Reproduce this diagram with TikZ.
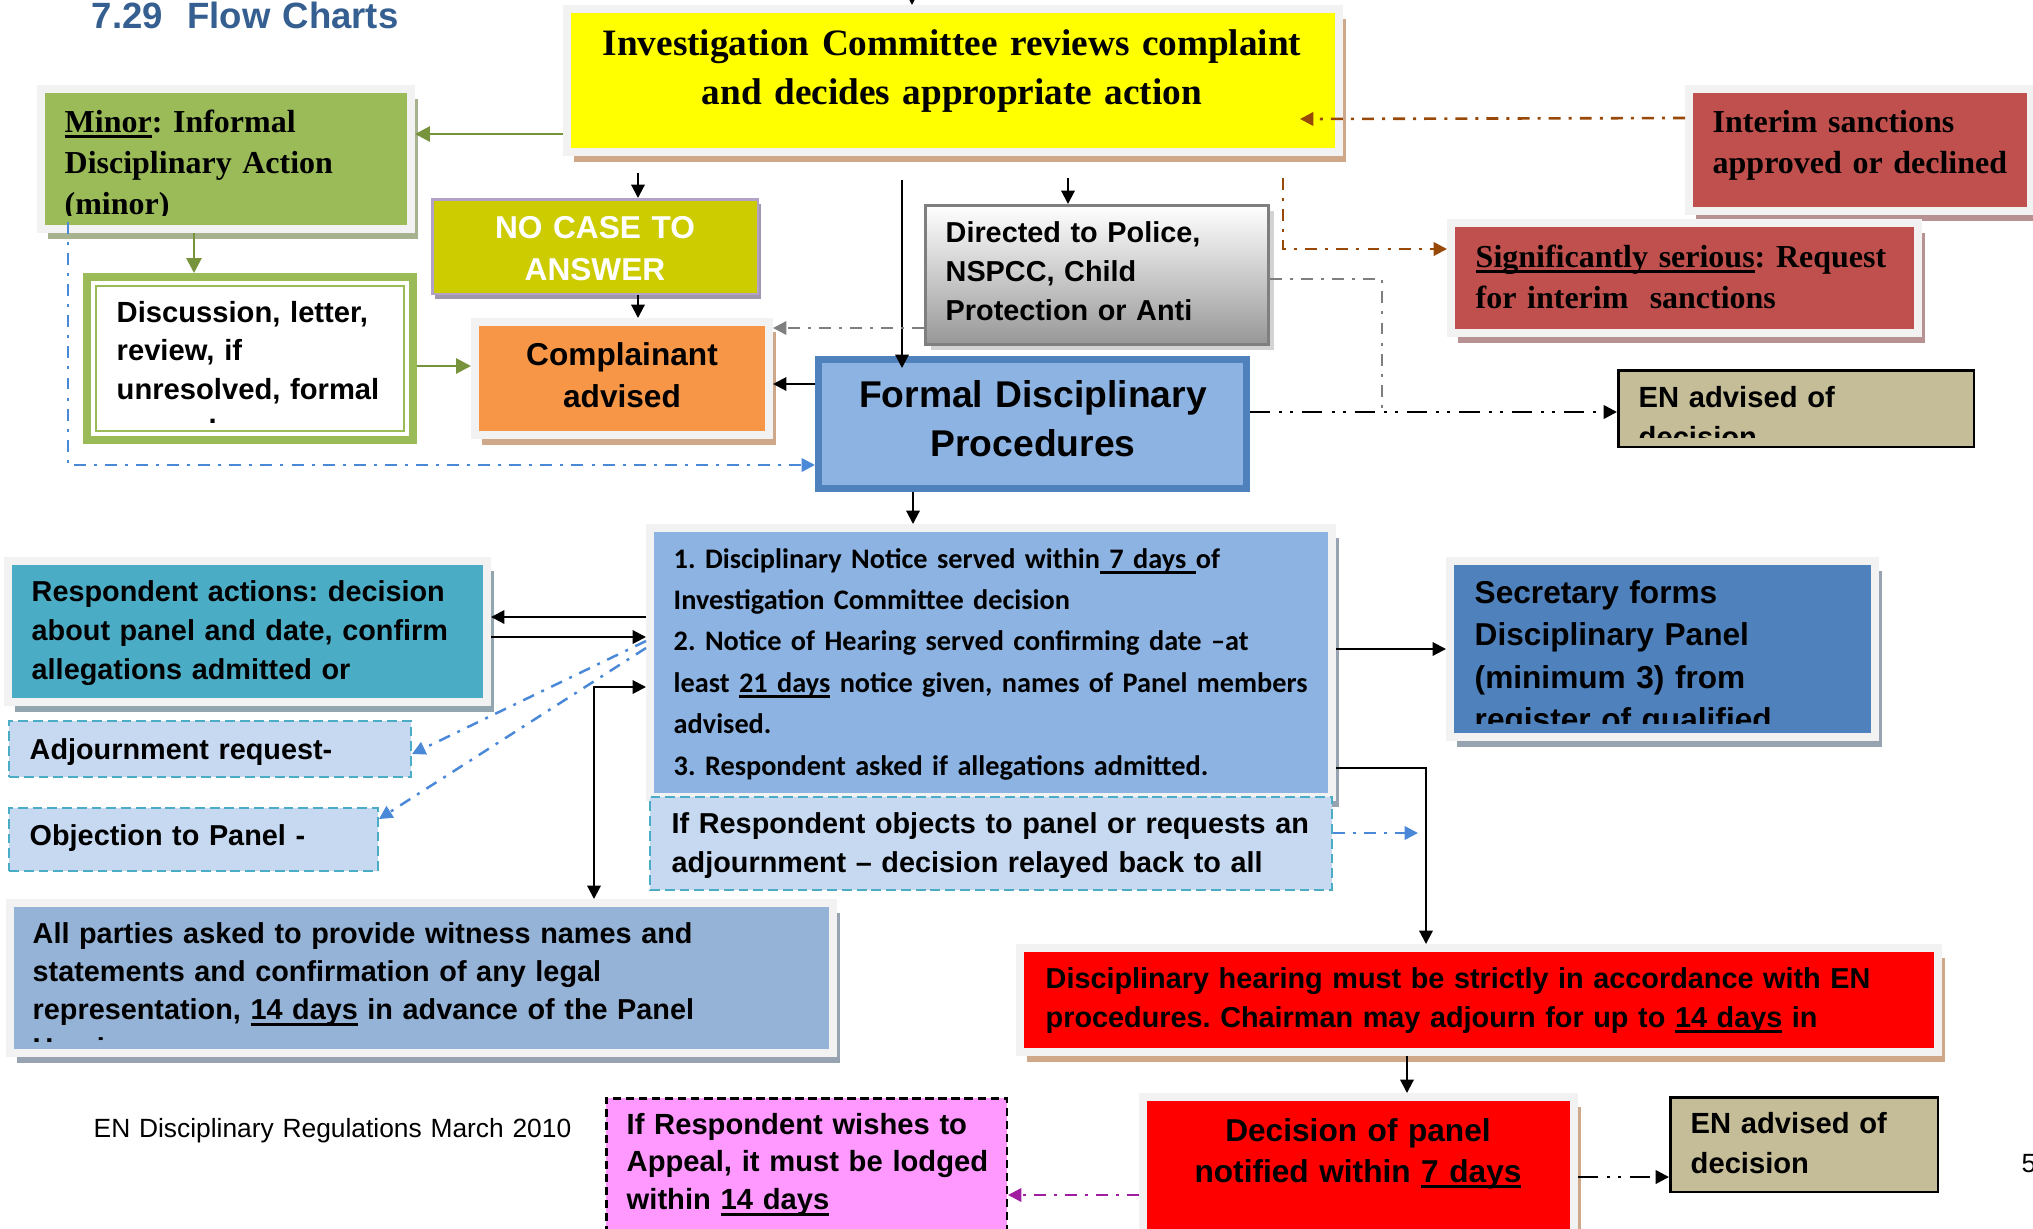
\documentclass[tikz,border=0pt]{standalone}
\usepackage{fontspec}
\newfontfamily\arialf{Liberation Sans}
\newfontfamily\timesf{Liberation Serif}
\newfontfamily\calf{Carlito}
\usetikzlibrary{positioning,shapes,arrows.meta,shadows}
\frenchspacing

\definecolor{titleblue}{HTML}{365F91}
\definecolor{framegrey}{HTML}{F2F2F2}
\definecolor{yellowf}{HTML}{FFFF00}
\definecolor{tanshade}{HTML}{CFA88A}
\definecolor{greenf}{HTML}{9BBB59}
\definecolor{greenshade}{HTML}{A7B38F}
\definecolor{greenline}{HTML}{77933C}
\definecolor{olivef}{HTML}{CCCC00}
\definecolor{lavline}{HTML}{B3A2C7}
\definecolor{lavshade}{HTML}{A097AE}
\definecolor{orangef}{HTML}{F79646}
\definecolor{bluef}{HTML}{8DB3E2}
\definecolor{blueline}{HTML}{4F81BD}
\definecolor{greyline}{HTML}{7F7F7F}
\definecolor{greybottom}{HTML}{979797}
\definecolor{softshade}{HTML}{D3D3D3}
\definecolor{redf}{HTML}{C0504D}
\definecolor{redshade}{HTML}{B89292}
\definecolor{khakif}{HTML}{C4BD97}
\definecolor{palef}{HTML}{C6D9F1}
\definecolor{tealline}{HTML}{4BACC6}
\definecolor{steelf}{HTML}{4F81BD}
\definecolor{steelshade}{HTML}{98A3B2}
\definecolor{tealf}{HTML}{4BACC6}
\definecolor{tealshade}{HTML}{93A5AE}
\definecolor{skyf}{HTML}{95B3D7}
\definecolor{hotred}{HTML}{FF0000}
\definecolor{pinkf}{HTML}{FF99FF}
\definecolor{brownline}{HTML}{984807}
\definecolor{dotblue}{HTML}{4A88D8}
\definecolor{plum}{HTML}{A01CA0}

\newcommand{\fsz}[2]{\fontsize{#1}{#2}\selectfont}
\newcommand{\uln}[1]{\setbox0\hbox{#1}\rlap{\rule[-1.6pt]{\wd0}{0.8pt}}\box0\relax}

\tikzset{
  frm/.style={draw=framegrey, line width=0.8mm, fill=#1, inner sep=0pt},
  shd/.style={drop shadow={shadow xshift=0.7mm, shadow yshift=-1mm, fill=#1, opacity=1}},
  dbox/.style={draw=#1, line width=0.2mm, dash pattern=on 2.8pt off 1.4pt, inner sep=0pt},
  txt/.style={inner sep=0pt, anchor=base west, align=left, text width=#1},
  txt/.default=90mm,
  ctxt/.style={inner sep=0pt, anchor=base, align=center, text width=#1},
  ctxt/.default=70mm,
  sans/.style={font=\arialf\bfseries\fsz{8.2}{11.1}},
  blk/.style={-{Triangle[length=3.8pt,width=3.8pt]}, line width=0.6pt},
  blkboth/.style={{Triangle[length=3.8pt,width=3.8pt]}-{Triangle[length=3.8pt,width=3.8pt]}, line width=0.6pt},
  grn/.style={-{Triangle[length=4.2pt,width=4.2pt]}, draw=greenline, line width=0.8pt},
  dd/.style={-{Triangle[length=3.8pt,width=3.8pt]}, draw=#1, line width=0.7pt,
    dash pattern=on 3.4pt off 2.3pt on 0.85pt off 2.3pt},
  ddd/.style={-{Triangle[length=3.8pt,width=3.8pt]}, line width=0.75pt,
    dash pattern=on 5.7pt off 2.6pt on 0.85pt off 2.3pt on 0.85pt off 2.6pt},
}

\begin{document}
\begin{tikzpicture}[x=0.1mm, y=-0.1mm]
  \fill[white] (0,0) rectangle (2033,1228);
  \useasboundingbox (0,0) rectangle (2033,1228);

  % title
  \node[txt=60mm, font=\arialf\bfseries\fsz{10.4}{12}, text=titleblue] (title) at (91,28) {7.29\ \ Flow Charts};

  % boxes
  \node[frm=yellowf, shd=tanshade, minimum width=77.2mm, minimum height=14.3mm] (invest) at (953,80.5) {};
  \node[frm=greenf, shd=greenshade, minimum width=37mm, minimum height=14mm] (minor) at (226,159) {};
  \node[draw=lavline, line width=0.25mm, fill=olivef, drop shadow={shadow xshift=0.3mm, shadow yshift=-0.5mm, fill=lavshade, opacity=1},
    minimum width=32.55mm, minimum height=9.45mm] (nocase) at (595,246.5) {};
  \node[frm=orangef, shd=tanshade, minimum width=29.4mm, minimum height=11.3mm] (compl) at (622,378.5) {};
  \node[draw=greenf, line width=0.8mm, fill=white, minimum width=32.6mm, minimum height=16.3mm,
    path picture={\draw[greenf, line width=0.2mm] ([xshift=0.9mm,yshift=-0.9mm]path picture bounding box.north west)
      rectangle ([xshift=-0.9mm,yshift=0.9mm]path picture bounding box.south east);}] (discuss) at (250,358.5) {};
  \node[draw=greyline, line width=0.3mm, top color=white, bottom color=greybottom,
    drop shadow={shadow xshift=0.5mm, shadow yshift=-0.5mm, fill=softshade, opacity=1},
    minimum width=34.3mm, minimum height=13.9mm] (directed) at (1097,275) {};
  \node[draw=blueline, line width=0.7mm, fill=bluef, minimum width=42.8mm, minimum height=12.9mm] (formal) at (1032.5,424) {};
  \node[frm=redf, shd=redshade, minimum width=34.2mm, minimum height=12.2mm] (interim) at (1860,150) {};
  \node[frm=redf, shd=redshade, minimum width=46.7mm, minimum height=11mm] (signif) at (1684.5,278) {};
  \node[draw, line width=0.25mm, fill=khakif, minimum width=35.55mm, minimum height=7.65mm] (entop) at (1796,408.5) {};
  \node[frm=bluef, shd=steelshade, minimum width=68.2mm, minimum height=26.9mm] (notice) at (991,662.5) {};
  \node[dbox=tealline, fill=palef, minimum width=68.2mm, minimum height=9.3mm] (ifbox) at (991,843.5) {};
  \node[frm=steelf, shd=steelshade, minimum width=42.5mm, minimum height=17.6mm] (secretary) at (1662.5,649) {};
  \node[frm=tealf, shd=tealshade, minimum width=47.9mm, minimum height=14.1mm] (respond) at (247.5,631.5) {};
  \node[dbox=tealline, fill=palef, minimum width=40.2mm, minimum height=5.65mm] (adjourn) at (210,749) {};
  \node[dbox=tealline, fill=palef, minimum width=36.9mm, minimum height=6.3mm] (objection) at (193.5,839.5) {};
  \node[frm=skyf, shd=steelshade, minimum width=82.3mm, minimum height=15mm] (allparties) at (421.5,978) {};
  \node[frm=hotred, shd=tanshade, minimum width=91.8mm, minimum height=10.4mm] (hearing) at (1479,1000) {};
  \node[frm=hotred, shd=tanshade, minimum width=43.1mm, minimum height=14.9mm] (decision) at (1358.5,1171.5) {};
  \node[draw, line width=0.25mm, fill=khakif, minimum width=26.75mm, minimum height=9.45mm] (enbot) at (1804,1144.5) {};
  \node[draw, line width=0.25mm, dash pattern=on 2.3pt off 1.4pt, fill=pinkf, minimum width=40.05mm, minimum height=15.05mm] (appeal) at (806.5,1173.5) {};

  % texts
  \node[ctxt=76mm, font=\timesf\bfseries\fsz{10.6}{14.2}] (invest-t) at (952,55)
    {Investigation Committee reviews complaint\\and decides appropriate action};
  \begin{scope}
    \clip (minor.north west) rectangle (minor.east |- 0,215);
    \node[txt, font=\timesf\bfseries\fsz{9.1}{11.8}] (minor-t) at (64,132)
      {\uln{Minor}: Informal\\Disciplinary Action\\(minor)};
  \end{scope}
  \node[ctxt=30mm, font=\arialf\bfseries\fsz{9}{11.95}, text=white] (nocase-t) at (595,238) {NO CASE TO\\ANSWER};
  \node[ctxt=28mm, font=\arialf\bfseries\fsz{9}{11.95}] (compl-t) at (622,365) {Complainant\\advised};
  \node[txt, font=\arialf\bfseries\fsz{8.3}{11}] (discuss-t) at (116,322)
    {Discussion, letter,\\review, if\\unresolved, formal};
  \node[txt=2mm, font=\arialf\bfseries\fsz{8.3}{11}] (discuss-dot) at (208,423) {.};
  \node[ctxt=42mm, font=\arialf\bfseries\fsz{10.6}{14.2}] (formal-t) at (1033,407) {Formal Disciplinary\\Procedures};
  \node[txt, sans] (directed-t) at (945,242) {Directed to Police,\\NSPCC, Child\\Protection or Anti};
  \node[txt, font=\timesf\bfseries\fsz{9.1}{11.7}] (interim-t) at (1712,132) {Interim sanctions\\approved or declined};
  \node[txt, font=\timesf\bfseries\fsz{9.1}{11.7}] (signif-t) at (1475,267)
    {\uln{Significantly serious}: Request\\for interim\ \ sanctions};
  \begin{scope}
    \clip (entop.north west) rectangle (entop.east |- 0,437);
    \node[txt, font=\arialf\bfseries\fsz{8.3}{11.4}] (entop-t) at (1638,407) {EN advised of\\decision};
  \end{scope}
  \node[txt, font=\calf\bfseries\fsz{8.05}{11.8}] (notice-t) at (673,568)
    {1. Disciplinary Notice served within\uln{\ 7 days\ }of\\
     Investigation Committee decision\\
     2. Notice of Hearing served confirming date –at\\
     least \uln{21 days} notice given, names of Panel members\\
     advised.\\
     3. Respondent asked if allegations admitted.};
  \node[txt, sans] (ifbox-t) at (671,833)
    {If Respondent objects to panel or requests an\\adjournment – decision relayed back to all};
  \begin{scope}
    \clip (secretary.north west) rectangle (secretary.east |- 0,723);
    \node[txt, font=\arialf\bfseries\fsz{9}{12.1}] (secretary-t) at (1474,603)
      {Secretary forms\\Disciplinary Panel\\(minimum 3) from\\register of qualified};
  \end{scope}
  \node[txt, sans] (respond-t) at (31,601)
    {Respondent actions: decision\\about panel and date, confirm\\allegations admitted or};
  \node[txt, sans] (adjourn-t) at (29,759) {Adjournment request-};
  \node[txt, sans] (objection-t) at (29,845.5) {Objection to Panel -};
  \begin{scope}
    \clip (allparties.north west) rectangle (allparties.east |- 0,1041);
    \node[txt, font=\arialf\bfseries\fsz{8.2}{10.95}] (allparties-t) at (32,943)
      {All parties asked to provide witness names and\\statements and confirmation of any legal\\
       representation, \uln{14 days} in advance of the Panel\\Hearing};
  \end{scope}
  \node[txt=100mm, sans] (hearing-t) at (1045,988)
    {Disciplinary hearing must be strictly in accordance with EN\\procedures. Chairman may adjourn for up to \uln{14 days} in};
  \node[ctxt=42mm, font=\arialf\bfseries\fsz{9}{11.7}] (decision-t) at (1358,1141) {Decision of panel\\notified within \uln{7 days}};
  \node[txt, font=\arialf\bfseries\fsz{8.3}{11.4}] (enbot-t) at (1690,1133) {EN advised of\\decision};
  \node[txt, font=\arialf\bfseries\fsz{8.3}{10.8}] (appeal-t) at (626,1134)
    {If Respondent wishes to\\Appeal, it must be lodged\\within \uln{14 days}};
  \node[txt, font=\arialf\fsz{7.5}{9}] (footer) at (93,1137) {EN Disciplinary Regulations March 2010};
  \node[txt=5mm, font=\arialf\fsz{7.5}{9}] (pagenum) at (2021,1172) {5};

  % free ends
  \coordinate (topin) at (912,-20);
  \coordinate (sancin) at (1300,119);
  \coordinate (gjoin) at (1382,412);
  \coordinate (ifend) at (1418,833);

  % green connectors
  \draw[grn] (invest.west |- 0,134) -- (minor.east |- 0,134);
  \draw[grn] (minor.south -| 194,0) -- (discuss.north -| 194,0);
  \draw[grn] (discuss.east |- 0,366) -- (compl.west |- 0,366);

  % black connectors
  \draw[blk] (topin) -- (invest.north -| topin);
  \draw[blk, shorten <=1.7mm] (invest.south -| 638,0) -- (nocase.north -| 638,0);
  \draw[blk] (nocase.south -| 638,0) -- (compl.north -| 638,0);
  \draw[blk, shorten <=2.4mm, shorten >=-1.2mm] (invest.south -| 902,0) -- (formal.north -| 902,0);
  \draw[blk, shorten <=2.2mm] (invest.south -| 1068,0) -- (directed.north -| 1068,0);
  \draw[blk] (formal.west |- 0,384) -- (compl.east |- 0,384);
  \draw[blk] (formal.south -| 913,0) -- (notice.north -| 913,0);
  \draw[blk] (notice.west |- 0,617) -- (respond.east |- 0,617);
  \draw[blk] (respond.east |- 0,637) -- (notice.west |- 0,637);
  \draw[blkboth] (notice.west |- 0,687) -| (594,0 |- allparties.north);
  \draw[blk] (notice.east |- 0,649) -- (secretary.west |- 0,649);
  \draw[blk] (notice.east |- 0,768) -| (hearing.north -| 1426,0);
  \draw[blk] (hearing.south -| 1407,0) -- (decision.north -| 1407,0);

  % dash dot connectors
  \draw[dd=greyline] (directed.west |- 0,328) -- (compl.east |- 0,328);
  \draw[dd=greyline, -] (directed.east |- 0,279) -| (gjoin);
  \draw[ddd] (formal.east |- 0,412) -- (entop.west |- 0,412);
  \draw[dd=brownline, line width=0.75pt] (interim.west |- 0,118) -- (sancin);
  \draw[dd=brownline, line width=0.75pt, shorten <=2.2mm] (invest.south -| 1283,0) |- (signif.west |- 0,249);
  \draw[dd=dotblue, shorten <=-1.1mm] (minor.south -| 68,0) |- (formal.west |- 0,465);
  \draw[dd=dotblue] (notice.west |- 0,641) -- (adjourn.east |- 0,754);
  \draw[dd=dotblue] (notice.west |- 0,648) -- (objection.east |- 0,819);
  \draw[dd=dotblue] (ifbox.east |- 0,833) -- (ifend);
  \draw[ddd] (decision.east |- 0,1177) -- (enbot.west |- 0,1177);
  \draw[dd=plum] (decision.west |- 0,1195) -- (appeal.east |- 0,1195);
\end{tikzpicture}
\end{document}
